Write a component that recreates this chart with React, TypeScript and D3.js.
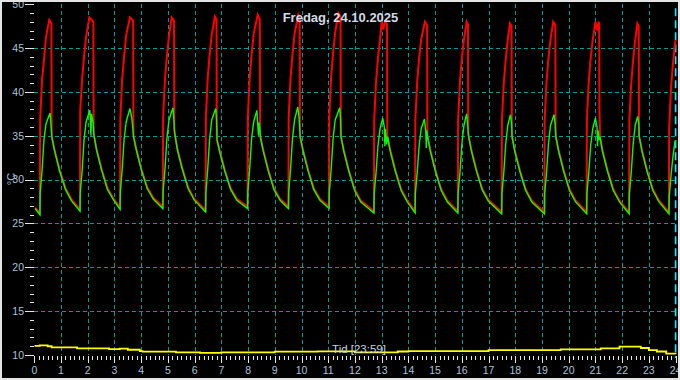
import React from "react";
import * as d3 from "d3";

const title = "Fredag, 24.10.2025";
const xLabel = "Tid [23:59]";
const yLabel = "°C";
const xTicks = [0, 1, 2, 3, 4, 5, 6, 7, 8, 9, 10, 11, 12, 13, 14, 15, 16, 17, 18, 19, 20, 21, 22, 23, 24];
const yTicks = [10, 15, 20, 25, 30, 35, 40, 45, 50];
const xGrid = [1, 2, 3, 4, 5, 6, 7, 8, 9, 10, 11, 12, 13, 14, 15, 16, 17, 18, 19, 20, 21, 22, 23];
const yGrid = [15, 20, 25, 30, 35, 40, 45];
const nowHour = 24;

const redSeries: [number, number][] = [
  [0.03, 26.8], [0.21, 26.2],
  [0.22, 37.0], [0.29, 41.4], [0.36, 43.6], [0.44, 46.3], [0.56, 48.2], [0.64, 47.8], [0.65, 34.9], [0.76, 33.4], [0.95, 31.1], [1.17, 29.0], [1.40, 27.7],
  [1.71, 26.6], [1.72, 38.0], [1.79, 41.4], [1.86, 44.0], [1.94, 46.3], [2.06, 48.5], [2.21, 48.0], [2.22, 35.3], [2.33, 33.5], [2.52, 31.2], [2.74, 29.0], [2.97, 27.8],
  [3.21, 26.8], [3.22, 37.0], [3.29, 41.5], [3.36, 44.0], [3.44, 46.5], [3.58, 48.5], [3.70, 48.1], [3.71, 35.0], [3.82, 33.5], [4.01, 31.2], [4.23, 29.1], [4.46, 27.9],
  [4.81, 26.9], [4.82, 37.0], [4.89, 41.5], [4.96, 44.0], [5.04, 46.4], [5.14, 48.5], [5.23, 48.1], [5.24, 35.6], [5.35, 33.6], [5.54, 31.3], [5.76, 29.1], [5.99, 27.8],
  [6.41, 26.5], [6.42, 37.0], [6.49, 41.6], [6.56, 44.2], [6.64, 46.5], [6.76, 48.6], [6.82, 48.3], [6.83, 34.6], [6.94, 33.3], [7.13, 31.1], [7.35, 29.0], [7.58, 27.8],
  [7.98, 26.9], [7.99, 37.0], [8.06, 41.6], [8.13, 44.2], [8.21, 46.6], [8.36, 48.8], [8.44, 48.3], [8.45, 35.0], [8.56, 33.5], [8.75, 31.2], [8.97, 29.0], [9.20, 27.8],
  [9.51, 26.9], [9.52, 37.0], [9.59, 41.6], [9.66, 44.2], [9.74, 46.6], [9.88, 48.8], [9.93, 48.4], [9.94, 35.0], [10.05, 33.5], [10.24, 31.2], [10.46, 29.0], [10.69, 27.8],
  [11.03, 26.9], [11.04, 37.2], [11.11, 41.8], [11.18, 44.4], [11.26, 46.8], [11.38, 49.0], [11.46, 48.6], [11.47, 35.0], [11.58, 33.4], [11.77, 31.1], [11.99, 28.9], [12.22, 27.6],
  [12.71, 26.4], [12.72, 36.8], [12.79, 41.2], [12.86, 43.8], [12.94, 46.0], [13.00, 48.0], [13.06, 47.1], [13.12, 48.0], [13.20, 47.7], [13.21, 35.0], [13.32, 33.4], [13.51, 31.1], [13.73, 28.9], [13.96, 27.6],
  [14.25, 26.4], [14.26, 36.8], [14.33, 41.2], [14.40, 43.8], [14.48, 46.0], [14.62, 48.0], [14.70, 47.6], [14.71, 35.0], [14.82, 33.4], [15.01, 31.1], [15.23, 28.9], [15.46, 27.6],
  [15.85, 26.4], [15.86, 36.8], [15.93, 41.2], [16.00, 43.8], [16.08, 46.0], [16.18, 48.0], [16.23, 47.7], [16.24, 35.2], [16.35, 33.5], [16.54, 31.2], [16.76, 29.0], [16.99, 27.7],
  [17.49, 26.3], [17.50, 36.8], [17.57, 41.0], [17.64, 43.6], [17.72, 46.0], [17.80, 47.8], [17.86, 47.5], [17.87, 35.0], [17.98, 33.4], [18.17, 31.1], [18.39, 28.9], [18.62, 27.6],
  [19.09, 26.3], [19.10, 36.8], [19.17, 41.2], [19.24, 43.8], [19.32, 46.0], [19.42, 48.0], [19.50, 47.6], [19.51, 35.0], [19.62, 33.4], [19.81, 31.1], [20.03, 28.9], [20.26, 27.6],
  [20.67, 26.3], [20.68, 36.8], [20.75, 41.2], [20.82, 43.8], [20.90, 46.0], [21.00, 48.0], [21.06, 47.0], [21.12, 48.0], [21.14, 47.7], [21.15, 38.0], [21.17, 35.0], [21.26, 33.4], [21.45, 31.1], [21.67, 28.9], [21.90, 27.6],
  [22.26, 26.3], [22.27, 36.8], [22.34, 41.0], [22.41, 43.6], [22.49, 46.0], [22.57, 47.8], [22.62, 47.5], [22.63, 35.0], [22.74, 33.4], [22.93, 31.1], [23.15, 28.9], [23.38, 27.6],
  [23.75, 26.3], [23.76, 36.0], [23.83, 40.5], [23.90, 43.2], [23.97, 45.3], [24.00, 45.9],
];

const greenSeries: [number, number][] = [
  [0.03, 26.7], [0.21, 26.0],
  [0.22, 28.5], [0.29, 31.0], [0.36, 34.5], [0.44, 36.4], [0.59, 37.6], [0.63, 36.0], [0.66, 34.8], [0.76, 33.25], [0.95, 30.95], [1.17, 28.85], [1.40, 27.55],
  [1.71, 26.4], [1.72, 28.5], [1.79, 31.0], [1.86, 34.5], [1.94, 36.6], [2.08, 37.9], [2.12, 35.0], [2.14, 37.5], [2.20, 36.5], [2.23, 35.1], [2.33, 33.35], [2.52, 31.05], [2.74, 28.85], [2.97, 27.65],
  [3.21, 26.6], [3.22, 28.6], [3.29, 31.2], [3.36, 34.6], [3.44, 36.6], [3.58, 38.1], [3.65, 37.0], [3.72, 34.8], [3.82, 33.35], [4.01, 31.05], [4.23, 28.95], [4.46, 27.75],
  [4.81, 26.7], [4.82, 28.6], [4.89, 31.2], [4.96, 34.6], [5.04, 36.8], [5.19, 38.2], [5.22, 37.0], [5.25, 35.4], [5.35, 33.45], [5.54, 31.15], [5.76, 28.95], [5.99, 27.65],
  [6.41, 26.3], [6.42, 28.5], [6.49, 31.2], [6.56, 34.6], [6.64, 36.8], [6.79, 38.1], [6.82, 36.8], [6.84, 34.5], [6.94, 33.15], [7.13, 30.95], [7.35, 28.85], [7.58, 27.65],
  [7.98, 26.7], [7.99, 28.6], [8.06, 31.2], [8.13, 34.6], [8.21, 36.6], [8.33, 37.9], [8.39, 35.0], [8.41, 36.5], [8.45, 35.5], [8.46, 34.9], [8.56, 33.35], [8.75, 31.05], [8.97, 28.85], [9.20, 27.65],
  [9.51, 26.7], [9.52, 28.6], [9.59, 31.2], [9.66, 34.6], [9.74, 36.8], [9.86, 38.3], [9.91, 37.0], [9.95, 34.9], [10.05, 33.35], [10.24, 31.05], [10.46, 28.85], [10.69, 27.65],
  [11.03, 26.7], [11.04, 28.6], [11.11, 31.2], [11.18, 34.6], [11.26, 36.8], [11.43, 38.2], [11.46, 37.0], [11.48, 34.9], [11.58, 33.25], [11.77, 30.95], [11.99, 28.75], [12.22, 27.45],
  [12.71, 26.2], [12.72, 28.4], [12.79, 30.8], [12.86, 33.8], [12.94, 35.8], [13.04, 37.0], [13.10, 36.0], [13.12, 33.8], [13.14, 35.8], [13.19, 34.0], [13.22, 34.9], [13.32, 33.25], [13.51, 30.95], [13.73, 28.75], [13.96, 27.45],
  [14.25, 26.2], [14.26, 28.4], [14.33, 30.8], [14.40, 33.8], [14.48, 35.8], [14.60, 36.9], [14.65, 35.5], [14.67, 33.6], [14.69, 35.6], [14.72, 34.9], [14.82, 33.25], [15.01, 30.95], [15.23, 28.75], [15.46, 27.45],
  [15.85, 26.2], [15.86, 28.4], [15.93, 30.8], [16.00, 34.0], [16.08, 36.2], [16.18, 37.5], [16.22, 36.2], [16.25, 35.0], [16.35, 33.35], [16.54, 31.05], [16.76, 28.85], [16.99, 27.55],
  [17.49, 26.1], [17.50, 28.4], [17.57, 30.8], [17.64, 34.0], [17.72, 36.2], [17.82, 37.4], [17.86, 36.5], [17.88, 34.9], [17.98, 33.25], [18.17, 30.95], [18.39, 28.75], [18.62, 27.45],
  [19.09, 26.1], [19.10, 28.4], [19.17, 30.8], [19.24, 34.0], [19.32, 36.2], [19.45, 37.4], [19.49, 36.4], [19.52, 34.9], [19.62, 33.25], [19.81, 30.95], [20.03, 28.75], [20.26, 27.45],
  [20.67, 26.1], [20.68, 28.4], [20.75, 30.8], [20.82, 33.8], [20.90, 35.8], [21.00, 37.0], [21.06, 36.0], [21.08, 33.8], [21.10, 35.6], [21.14, 34.5], [21.17, 34.9], [21.26, 33.25], [21.45, 30.95], [21.67, 28.75], [21.90, 27.45],
  [22.26, 26.1], [22.27, 28.4], [22.34, 30.8], [22.41, 34.0], [22.49, 36.2], [22.58, 37.2], [22.62, 36.4], [22.64, 34.9], [22.74, 33.25], [22.93, 30.95], [23.15, 28.75], [23.38, 27.45],
  [23.75, 26.1], [23.76, 28.0], [23.83, 30.5], [23.90, 32.6], [23.97, 34.2], [24.00, 34.5],
];

const yellowSeries: [number, number][] = [
  [0.0, 11.05], [0.2, 11.1], [0.5, 11.0], [0.65, 10.88], [1.6, 10.76], [2.8, 10.68], [3.2, 10.72], [3.5, 10.6],
  [3.95, 10.45], [4.05, 10.38], [5.3, 10.3], [6.2, 10.25], [7.0, 10.3], [9.0, 10.38], [10.6, 10.42], [12.0, 10.3],
  [13.6, 10.4], [14.0, 10.45], [17.0, 10.55], [19.7, 10.65], [21.2, 10.75], [21.9, 10.95], [22.7, 10.8], [23.0, 10.55],
  [23.3, 10.4], [23.65, 10.15], [24.0, 10.1],
];

const W = 680;
const H = 380;
const X0 = 34.3;
const X1 = 675.6;
const Y0 = 355;
const Y1 = 4.2;

export default function App() {
  const x = d3.scaleLinear().domain([0, 24]).range([X0, X1]);
  const y = d3.scaleLinear().domain([10, 50]).range([Y0, Y1]);
  const line = d3.line<[number, number]>().x((d) => x(d[0])).y((d) => y(d[1]));
  const stepLine = d3
    .line<[number, number]>()
    .x((d) => x(d[0]))
    .y((d) => y(d[1]))
    .curve(d3.curveStepAfter);

  const minorX = d3.range(0, 24 * 6 + 1).map((i) => i / 6).filter((v) => Math.abs(v - Math.round(v)) > 1e-6);
  const minorY = d3.range(10, 51).filter((v) => v % 5 !== 0);
  const labelColor = "#adc2d8";
  const font = "'Liberation Sans', Arial, sans-serif";

  return (
    <svg
      width={W}
      height={H}
      style={{ position: "absolute", left: 0, top: 0, display: "block" }}
      xmlns="http://www.w3.org/2000/svg"
    >
      <rect x={0} y={0} width={W} height={H} fill="#000" />
      <defs>
        <clipPath id="plot">
          <rect x={X0} y={Y1 - 2} width={X1 - X0 + 2} height={Y0 - Y1 + 2} />
        </clipPath>
      </defs>
      <g stroke="#009a9a" strokeWidth={1} strokeDasharray="4,3" shapeRendering="crispEdges">
        {xGrid.map((h) => (
          <line key={"gx" + h} x1={Math.round(x(h)) + 0.5} x2={Math.round(x(h)) + 0.5} y1={Y1} y2={Y0} />
        ))}
        {yGrid.map((v) => (
          <line key={"gy" + v} x1={X0} x2={X1} y1={Math.round(y(v)) + 0.5} y2={Math.round(y(v)) + 0.5} />
        ))}
      </g>
      <line
        x1={x(nowHour)}
        x2={x(nowHour)}
        y1={Y1 + 4}
        y2={Y0 + 3}
        stroke="#19e6ff"
        strokeWidth={1.6}
        strokeDasharray="8,4"
      />
      <g clipPath="url(#plot)" fill="none" strokeLinejoin="miter">
        <path d={stepLine(yellowSeries) || ""} stroke="#ffff00" strokeWidth={1.8} />
        <path d={line(redSeries) || ""} stroke="#ff0000" strokeWidth={2} />
        <path d={line(greenSeries) || ""} stroke="#00ff00" strokeWidth={1.4} />
      </g>
      <g stroke="#e6e6e6" strokeWidth={1} shapeRendering="crispEdges">
        {yTicks.map((v) => (
          <line key={"yt" + v} x1={25} x2={34} y1={Math.round(y(v)) + 0.5} y2={Math.round(y(v)) + 0.5} />
        ))}
        {minorY.map((v) => (
          <line key={"ym" + v} x1={30} x2={34} y1={Math.round(y(v)) + 0.5} y2={Math.round(y(v)) + 0.5} />
        ))}
        {xTicks.map((h) => (
          <line key={"xt" + h} x1={Math.round(x(h)) + 0.5} x2={Math.round(x(h)) + 0.5} y1={356} y2={363} />
        ))}
        {minorX.map((h, i) => (
          <line key={"xm" + i} x1={Math.round(x(h)) + 0.5} x2={Math.round(x(h)) + 0.5} y1={356} y2={360} />
        ))}
      </g>
      <g fill={labelColor} fontFamily={font} fontSize={10.5}>
        {yTicks.map((v) => (
          <text key={"yl" + v} x={24} y={y(v) + 3.8} textAnchor="end">
            {v}
          </text>
        ))}
        {xTicks.map((h) => (
          <text key={"xl" + h} x={x(h)} y={373.5} textAnchor="middle">
            {h}
          </text>
        ))}
        <text transform={`translate(15,179) rotate(-90)`} textAnchor="middle" fontSize={11}>
          {yLabel}
        </text>
      </g>
      <text x={359} y={352.5} textAnchor="middle" fill="#c2d2e2" fontFamily={font} fontSize={11.5}>
        {xLabel}
      </text>
      <text x={340.5} y={22.3} textAnchor="middle" fill="#d4dbe3" fontFamily={font} fontSize={13} fontWeight="bold">
        {title}
      </text>
      <rect x={1} y={1} width={W - 2} height={H - 2} fill="none" stroke="#e4e4e4" strokeWidth={2} />
    </svg>
  );
}
